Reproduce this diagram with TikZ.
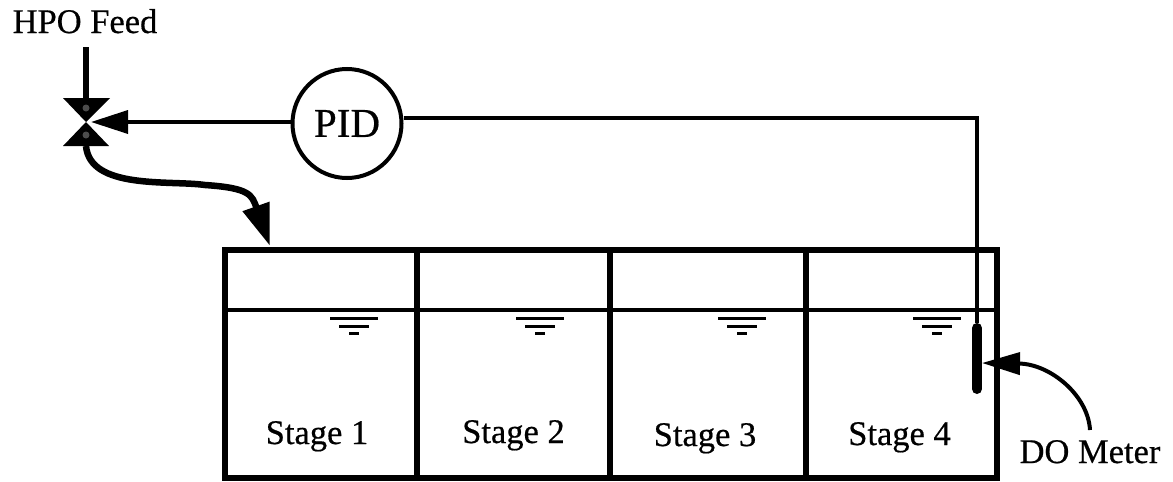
\documentclass[tikz,border=0pt]{standalone}
\usepackage{fontspec}
\setmainfont{Liberation Serif}[FakeBold=0.5]
\newfontface\lblface{Liberation Serif}[FakeBold=0.5]
\usetikzlibrary{arrows.meta}
\tikzset{
  lbl/.style={inner sep=0pt,anchor=base,font=\lblface\fontsize{34.5}{38}\selectfont},
  wall/.style={line width=6pt,line cap=rect},
  thin wire/.style={line width=3.5pt},
  level/.style={line width=3pt},
  sig arrow/.style={-{Triangle[length=37pt,width=23pt]}},
  pidcircle/.style={circle,draw,line width=4pt,minimum size=109pt,inner sep=0pt,font=\lblface\fontsize{41}{44}\selectfont},
}
\begin{document}
\begin{tikzpicture}[x=1pt,y=-1pt]
\useasboundingbox (0,0) rectangle (1173,482);
% labels
\node[lbl] (feedlabel) at (85,33) {HPO Feed};
\node[lbl] at (317,444) (s1) {Stage 1};
\node[lbl] at (513.5,443) (s2) {Stage 2};
\node[lbl] at (705,446) (s3) {Stage 3};
\node[lbl] at (899.5,445) (s4) {Stage 4};
\node[lbl] at (1090,463) (domlabel) {DO Meter};
% tank
\draw[wall] (225,249.5) rectangle (996.5,478);
\foreach \x in {416.5,610,806} \draw[wall] (\x,249.5) -- (\x,478);
\draw[thin wire] (225,310) -- (996.5,310);
% water level marks
\foreach \x in {354,540,742,937}{
  \draw[level] (\x-24,318) -- (\x+24,318);
  \draw[level] (\x-15,326) -- (\x+15,326);
  \draw[level] (\x-5,333.5) -- (\x+5,333.5);
}
% valve
\coordinate (vc) at (86,122);
\coordinate (vt) at (86,99);
\coordinate (vb) at (86,146);
\fill[black] (63,98) -- (110,98) -- (vc) -- (109,146) -- (63,146) -- (vc) -- cycle;
\fill[gray!60!black] (86,108) circle (3.5pt) (86,135) circle (3.5pt);
% PID
\node[pidcircle] (pid) at (347,123.5) {PID};
% probe
\coordinate (ptop) at (977,323);
\coordinate (pbot) at (977,393);
\draw[line width=10pt,line cap=round] (977,328) -- (977,389);
\coordinate (corner) at (977,118);
\coordinate (pidr) at (pid.east |- corner);
% connectors
\coordinate (feedtop) at (86,47);
\draw[line width=6pt] (feedtop) -- (vt);
\draw[thin wire,sig arrow] (pid.west |- 0,122) -- (91,122);
\draw[thin wire] (pidr) -- (corner) -- (ptop);
\coordinate (tanktip) at (270,246);
\draw[line width=6.5pt,-{Triangle[length=42pt,width=27pt]}] (vb) .. controls (90,190) and (170,180) .. (205,185) .. controls (250,188) and (252,195) .. (tanktip);
\coordinate (domstart) at (1090,430);
\coordinate (probetip) at (982,363);
\draw[line width=4pt,-{Triangle[length=38pt,width=22pt]}] (domstart) .. controls (1088,395) and (1050,364) .. (probetip);
\end{tikzpicture}
\end{document}
